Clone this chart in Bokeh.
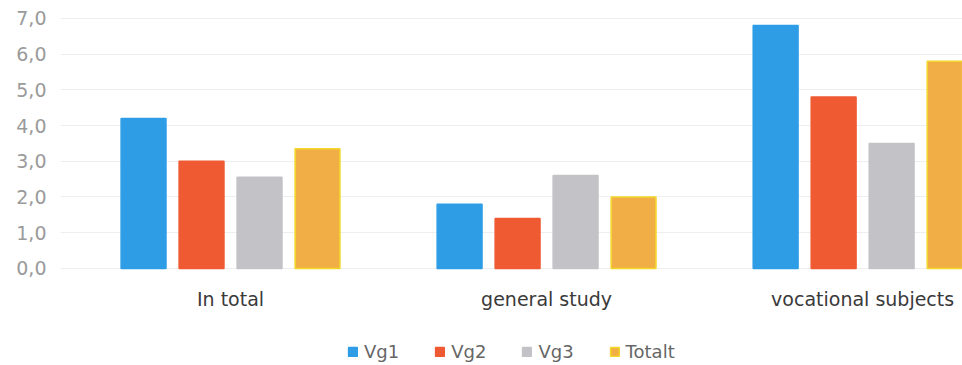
import numpy as np
from bokeh.plotting import figure
from bokeh.models import Range1d, FixedTicker, Legend, LegendItem, ColumnDataSource
from bokeh.core.properties import value
from bokeh.embed import file_html
from bokeh.resources import INLINE

groups = ["In total", "general study", "vocational subjects"]
series_names = ["Vg1", "Vg2", "Vg3", "Totalt"]
vg1 = [4.2, 1.8, 6.8]
vg2 = [3.0, 1.4, 4.8]
vg3 = [2.55, 2.6, 3.5]
totalt = [3.35, 2.0, 5.8]
y_ticks = [0, 1, 2, 3, 4, 5, 6, 7]
y_tick_labels = ["0,0", "1,0", "2,0", "3,0", "4,0", "5,0", "6,0", "7,0"]

colors = ["#2e9de6", "#ef5a32", "#c3c3c7", "#f2ae46"]
lines = ["#2e9de6", "#ef5a32", "#c3c3c7", "#f3d82a"]
series_values = [vg1, vg2, vg3, totalt]

FONT = "DejaVu Sans"

p = figure(width=962, height=365, output_backend="svg", toolbar_location=None,
           x_axis_location=None,
           x_range=Range1d(-0.538, 2.316), y_range=Range1d(-2.717, 7.5),
           min_border_left=60, min_border_right=0, min_border_top=0,
           min_border_bottom=0)
p.outline_line_color = None
p.background_fill_color = "white"
p.border_fill_color = "white"

pitch = 0.1835
width = 0.142
offsets = [-1.5 * pitch, -0.5 * pitch, 0.5 * pitch, 1.5 * pitch]
base = np.arange(len(groups))
items = []
for name, vals, off, c, lc in zip(series_names, series_values, offsets, colors, lines):
    r = p.vbar(x=base + off, top=vals, bottom=0, width=width, fill_color=c,
               line_color=lc, line_width=1.5)
    items.append(LegendItem(label=name, renderers=[r]))

# category labels under the groups
lab_src = ColumnDataSource(dict(x=base, y=[0] * len(groups), t=groups))
p.text(x="x", y="y", text="t", source=lab_src, y_offset=31,
       text_align="center", text_baseline="middle",
       text_font=value(FONT), text_font_size="19px", text_color="#3a3a3a")

p.xgrid.grid_line_color = None
p.xgrid.visible = False
p.ygrid.grid_line_color = "#eeeeee"
p.ygrid.ticker = FixedTicker(ticks=y_ticks)

p.yaxis.ticker = FixedTicker(ticks=y_ticks)
p.yaxis.major_label_overrides = {t: l for t, l in zip(y_ticks, y_tick_labels)}
p.yaxis.axis_line_color = None
p.yaxis.major_tick_line_color = None
p.yaxis.minor_tick_line_color = None
p.yaxis.major_tick_out = 0
p.yaxis.minor_tick_out = 0
p.yaxis.major_label_text_font = FONT
p.yaxis.major_label_text_font_size = "19px"
p.yaxis.major_label_text_color = "#9a9a9a"
p.yaxis.major_label_standoff = 14

legend = Legend(items=items, orientation="horizontal", location=(287, 3))
legend.glyph_width = 11
legend.glyph_height = 11
legend.label_standoff = 6
legend.spacing = 35
legend.label_text_font = FONT
legend.label_text_font_size = "18px"
legend.label_text_color = "#666666"
legend.border_line_color = None
legend.background_fill_alpha = 0
legend.margin = 0
legend.padding = 4
p.add_layout(legend, "center")

open("out.html", "w").write(file_html(p, INLINE))
